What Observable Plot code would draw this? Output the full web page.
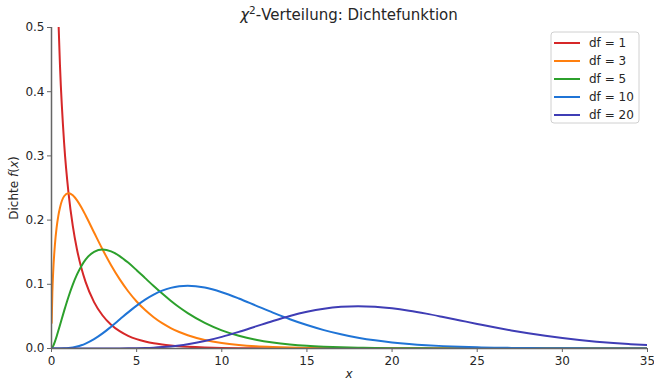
<!DOCTYPE html>
<html><head><meta charset="utf-8">
<script src="https://cdn.jsdelivr.net/npm/d3@7"></script>
<script src="https://cdn.jsdelivr.net/npm/@observablehq/plot@0.6"></script>
<style>body{margin:0;background:#fff;font-family:"DejaVu Sans",sans-serif}</style>
</head><body><div id="chart"></div>
<script>
const xs = [0.01,0.05,0.1,0.2,0.3,0.4,0.5,0.75,1,1.25,1.5,1.75,
  2,2.5,3,3.5,4,4.5,5,5.5,6,6.5,7,7.5,8,
  9,10,11,12,13,14,15,16,17,18,19,20,21,22,23,24,25,26,27,28,29,30,31,32,33,34,35];
const df1 = [3.97,1.740,1.200,0.807,0.627,0.5165,0.4394,0.3167,0.2420,0.1910,0.1539,0.1257,
  0.1038,0.0723,0.0514,0.0371,0.0270,0.0198,0.0146,0.0109,0.0081,0.0061,0.0046,0.0034,0.0026,
  0.0015,0.00085,0.00049,0.00029,0.00017,0.0001,0.00006,0.00003,0.00002,0.00001,
  0,0,0,0,0,0,0,0,0,0,0,0,0,0,0,0,0];
const df3 = [0.0397,0.0870,0.1200,0.1614,0.1881,0.2066,0.2197,0.2375,0.2420,0.2387,0.2308,0.2200,
  0.2076,0.1807,0.1542,0.1297,0.1080,0.0892,0.0732,0.0598,0.0487,0.0394,0.0319,0.0257,0.0207,
  0.0133,0.0085,0.0054,0.0034,0.0022,0.0014,0.00085,0.00053,0.00033,0.00021,0.00013,0.00008,0.00005,0.00003,0.00002,0.00001,
  0,0,0,0,0,0,0,0,0,0,0];
const df5 = [0.00013,0.00145,0.0040,0.0108,0.0188,0.0276,0.0366,0.0594,0.0807,0.0995,0.1154,0.1283,
  0.1384,0.1506,0.1542,0.1513,0.1440,0.1338,0.1220,0.1096,0.0973,0.0855,0.0744,0.0642,0.0551,
  0.0399,0.0283,0.0198,0.0137,0.0094,0.0064,0.0043,0.0029,0.0019,0.00125,0.00082,0.00054,0.00035,0.00023,0.00015,0.0001,0.00006,0.00004,0.00002,0.00001,
  0,0,0,0,0,0,0];
const df10 = [0,0,0,0,0,0.00003,0.00006,0.00028,0.00079,0.0017,0.0031,0.0051,
  0.0077,0.0146,0.0235,0.0340,0.0451,0.0563,0.0668,0.0762,0.0840,0.0901,0.0944,0.0969,0.0977,
  0.0949,0.0877,0.0779,0.0669,0.0559,0.0456,0.0365,0.0286,0.0221,0.0169,
  0.0127,0.0095,0.0070,0.0051,0.0037,0.0027,0.0019,0.0013,0.00095,0.00067,
  0.00046,0.00032,0.00022,0.00015,0.00011,0.00007,0.00005];
const df20 = [0,0,0,0,0,0,0,0,0,0,0,0,
  0,0,0.00001,0.00004,0.0001,0.00022,0.00043,0.00079,0.00135,0.00216,0.00328,0.00475,0.00662,
  0.0116,0.0181,0.0259,0.0344,0.0429,0.0507,0.0572,0.0620,0.0649,0.0659,
  0.0650,0.0626,0.0589,0.0543,0.0491,0.0437,0.0383,0.0330,0.0281,0.0237,
  0.0197,0.0162,0.0132,0.0107,0.0085,0.0068,0.0053];

const seriesNames = ["df = 1","df = 3","df = 5","df = 10","df = 20"];
const seriesColors = ["#d62728","#ff7f0e","#2ca02c","#1f74d6","#3f3db5"];
const xTicks = [0,5,10,15,20,25,30,35];
const yTicks = [0,0.1,0.2,0.3,0.4,0.5];
const titleParts = ["χ", "2", "-Verteilung: Dichtefunktion"];

const seriesValues = [df1,df3,df5,df10,df20];
const rows = [];
seriesValues.forEach((vals,i)=>vals.forEach((v,j)=>rows.push({x:xs[j], y:v, s:seriesNames[i]})));

const plot = Plot.plot({
  width:654, height:380, marginTop:27, marginBottom:32, marginLeft:51, marginRight:7,
  style:{fontFamily:"DejaVu Sans", fontSize:"12px", background:"#fff", overflow:"visible"},
  x:{domain:[0,35]}, y:{domain:[0,0.5]},
  color:{domain:seriesNames, range:seriesColors},
  marks:[
    Plot.axisX({ticks:xTicks, tickSize:4, tickPadding:4, tickFormat:d=>String(d), label:null, stroke:"#666", fill:"#262626"}),
    Plot.axisY({ticks:yTicks, tickSize:4, tickPadding:3, tickFormat:d3.format(".1f"), label:null, stroke:"#666", fill:"#262626"}),
    Plot.lineY(rows,{x:"x", y:"y", stroke:"s", strokeWidth:2, curve:"monotone-x", clip:true}),
    Plot.ruleX([0],{stroke:"#666", strokeWidth:1.5}),
    Plot.ruleY([0],{stroke:"#666", strokeWidth:1.5})
  ]
});

const svg = d3.select(plot);
const tt = svg.append("text").attr("x",349).attr("y",20).attr("text-anchor","middle")
  .attr("font-size",15).attr("fill","#262626");
tt.append("tspan").attr("font-style","italic").text(titleParts[0]);
tt.append("tspan").attr("font-size",10.5).attr("dy",-6).text(titleParts[1]);
tt.append("tspan").attr("dy",6).text(titleParts[2]);

const yl = svg.append("text").attr("transform","translate(14,188) rotate(-90)")
  .attr("text-anchor","middle").attr("dy","0.35em").attr("fill","#262626").attr("font-size",12);
yl.append("tspan").text("Dichte ");
yl.append("tspan").attr("font-style","italic").text("f");
yl.append("tspan").text("(");
yl.append("tspan").attr("font-style","italic").text("x");
yl.append("tspan").text(")");
svg.append("text").attr("x",349).attr("y",378).attr("text-anchor","middle")
  .attr("font-style","italic").attr("font-size",12).attr("fill","#262626").text("x");

const lg = svg.append("g").attr("text-anchor","start");
lg.append("rect").attr("x",551).attr("y",32).attr("width",88).attr("height",91).attr("rx",3)
  .attr("fill","#fff").attr("fill-opacity",0.8).attr("stroke","#d0d0d0");
seriesNames.forEach((n,i)=>{
  const y = 43 + 18*i;
  lg.append("line").attr("x1",554).attr("x2",580).attr("y1",y).attr("y2",y)
    .attr("stroke",seriesColors[i]).attr("stroke-width",2);
  lg.append("text").attr("x",589).attr("y",y).attr("dy","0.35em").attr("font-size",12)
    .attr("text-anchor","start").attr("fill","#262626").text(n);
});
document.getElementById("chart").appendChild(plot);
</script>
</body></html>
